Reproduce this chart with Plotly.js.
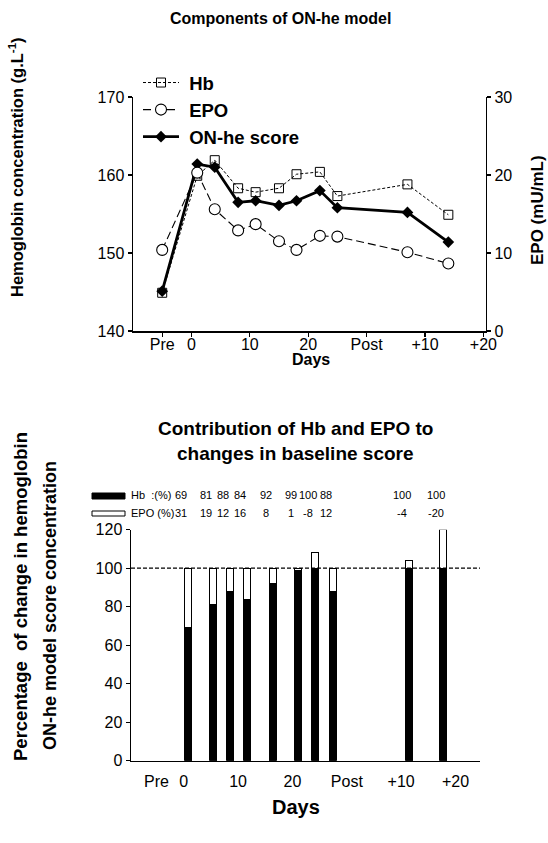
<!DOCTYPE html>
<html>
<head>
<meta charset="utf-8">
<script src="https://cdn.plot.ly/plotly-3.0.1.min.js"></script>
<style>html,body{margin:0;padding:0;background:#fff;}#chart{width:548px;height:843px;}</style>
</head>
<body>
<div id="chart"></div>
<script>
// ---- Data ----
var days = [-5, 1, 4, 8, 11, 15, 18, 22, 25, 37, 44];
var hbConc = [144.9, 159.9, 161.9, 158.3, 157.8, 158.3, 160.1, 160.4, 157.3, 158.8, 154.9];
var epoConc = [10.4, 20.3, 15.6, 12.9, 13.7, 11.5, 10.4, 12.2, 12.1, 10.1, 8.65];
var onheScore = [145.1, 161.4, 161.0, 156.5, 156.7, 156.1, 156.7, 158.0, 155.8, 155.2, 151.4];

var tickVals = [-5, 0, 10, 20, 30, 40, 50];
var tickText = ['Pre', '0', '10', '20', 'Post', '+10', '+20'];

var barPos = [0.8, 5.4, 8.6, 11.7, 16.4, 21.1, 24.2, 27.4, 41.5, 47.7];
var hbPct = [69, 81, 88, 84, 92, 99, 100, 88, 100, 100];
var epoPct = [31, 19, 12, 16, 8, 1, -8, 12, -4, -20];

// ---- Layout constants ----
var W = 548, H = 843;
var FONT = 'Liberation Sans, Arial, Helvetica, sans-serif';
function px(x){ return x / W; }
function py(y){ return 1 - y / H; }
var NB = '\u00a0';

var traces = [
  {x: days, y: hbConc, name: NB + '<b>Hb</b>', type: 'scatter', mode: 'lines+markers',
   xaxis: 'x', yaxis: 'y',
   line: {color: '#000', width: 1, dash: '3px,2px'},
   marker: {symbol: 'square-open', size: 9, color: '#000', line: {width: 1}}},
  {x: days, y: epoConc, name: NB + '<b>EPO</b>', type: 'scatter', mode: 'lines+markers',
   xaxis: 'x', yaxis: 'y2',
   line: {color: '#000', width: 1.1, dash: '8px,4px'},
   marker: {symbol: 'circle', size: 11, color: '#fff', line: {width: 1.1, color: '#000'}}},
  {x: days, y: onheScore, name: NB + '<b>ON-he score</b>', type: 'scatter', mode: 'lines+markers',
   xaxis: 'x', yaxis: 'y',
   line: {color: '#000', width: 2.8},
   marker: {symbol: 'diamond', size: 9, color: '#000'}},
  {x: barPos, y: hbPct, type: 'bar', xaxis: 'x2', yaxis: 'y3', showlegend: false,
   width: 1.29, marker: {color: '#000', line: {color: '#000', width: 1}}},
  {x: barPos, y: epoPct.map(function(v){ return Math.abs(v); }), type: 'bar', xaxis: 'x2', yaxis: 'y3', showlegend: false,
   width: 1.29, marker: {color: '#fff', line: {color: '#000', width: 1}}}
];

var axisCommon = {
  showline: true, linecolor: '#000', linewidth: 1.5, showgrid: false, zeroline: false,
  ticks: 'outside', ticklen: 4, tickwidth: 1.3, tickcolor: '#000',
  tickfont: {family: FONT, size: 16, color: '#000'}
};
function ax(extra){ var o = {}; for (var k in axisCommon) o[k] = axisCommon[k]; for (var k2 in extra) o[k2] = extra[k2]; return o; }

function ann(text, x, y, size, extra){
  var o = {text: text, x: px(x), y: py(y), xref: 'paper', yref: 'paper', xanchor: 'center', yanchor: 'middle',
           showarrow: false, font: {family: FONT, size: size, color: '#000'}};
  for (var k in (extra || {})) o[k] = extra[k];
  return o;
}

var annotations = [
  ann('<b>Components of ON-he model</b>', 280, 18, 16),
  ann('<b>Hemoglobin concentration (g.L<sup>-1</sup>)</b>', 16, 167, 16.5, {textangle: -90}),
  ann('<b>EPO (mU/mL)</b>', 538, 210, 17, {textangle: -90}),
  ann('<b>Days</b>', 311, 359, 16),
  ann('<b>Contribution of Hb and EPO to</b>', 295, 428, 19),
  ann('<b>changes in baseline score</b>', 295, 453, 19),
  ann('<b>Percentage  of change in hemoglobin</b>', 20, 597, 18.5, {textangle: -90}),
  ann('<b>ON-he model score concentration</b>', 50, 606, 18, {textangle: -90}),
  ann('<b>Days</b>', 296, 807, 20),
  ann('Hb  :(%)', 129, 495, 11, {xanchor: 'left'}),
  ann('EPO (%)', 129, 513, 11, {xanchor: 'left'})
];
barPos.forEach(function(p, i){
  annotations.push({text: String(hbPct[i]), x: p, y: py(495), xref: 'x2', yref: 'paper', xshift: -7,
    xanchor: 'center', yanchor: 'middle', showarrow: false, font: {family: FONT, size: 11, color: '#000'}});
  annotations.push({text: String(epoPct[i]), x: p, y: py(513), xref: 'x2', yref: 'paper', xshift: -7,
    xanchor: 'center', yanchor: 'middle', showarrow: false, font: {family: FONT, size: 11, color: '#000'}});
});

var shapes = [
  {type: 'line', xref: 'x2 domain', yref: 'y3', x0: 0, x1: 1, y0: 100, y1: 100,
   line: {color: '#000', width: 1.3, dash: '4px,2px'}},
  {type: 'rect', xref: 'paper', yref: 'paper', x0: px(92), x1: px(125), y0: py(499), y1: py(493),
   fillcolor: '#000', line: {color: '#000', width: 1}},
  {type: 'rect', xref: 'paper', yref: 'paper', x0: px(92), x1: px(125), y0: py(516), y1: py(511),
   fillcolor: '#fff', line: {color: '#000', width: 1}}
];

var layout = {
  width: W, height: H,
  margin: {l: 0, r: 0, t: 0, b: 0, pad: 0},
  paper_bgcolor: '#fff', plot_bgcolor: 'rgba(0,0,0,0)',
  font: {family: FONT, color: '#000'},
  showlegend: true,
  legend: {x: px(138), y: py(64), xanchor: 'left', yanchor: 'top', bgcolor: 'rgba(0,0,0,0)',
           traceorder: 'normal',
           font: {family: FONT, size: 18.5, color: '#000'}, itemwidth: 36, tracegroupgap: 0},
  barmode: 'stack',
  xaxis: ax({domain: [px(133), px(485.7)], range: [-10, 50.4], anchor: 'y',
             tickmode: 'array', tickvals: tickVals, ticktext: tickText, ticklabelstandoff: -6}),
  yaxis: ax({domain: [py(331), py(97)], range: [140, 170], anchor: 'x',
             tickmode: 'array', tickvals: [140, 150, 160, 170]}),
  yaxis2: ax({overlaying: 'y', side: 'right', anchor: 'x', range: [0, 30],
              tickmode: 'array', tickvals: [0, 10, 20, 30]}),
  xaxis2: ax({domain: [px(131), px(480)], range: [-9.7, 54.5], anchor: 'y3',
              tickmode: 'array', tickvals: tickVals, ticktext: tickText,
              ticklen: 6, tickcolor: 'rgba(0,0,0,0)'}),
  yaxis3: ax({domain: [py(760.7), py(529.7)], range: [0, 120], anchor: 'x2',
              tickmode: 'array', tickvals: [0, 20, 40, 60, 80, 100, 120]}),
  annotations: annotations,
  shapes: shapes
};

Plotly.newPlot('chart', traces, layout, {staticPlot: true, displayModeBar: false});
</script>
</body>
</html>
